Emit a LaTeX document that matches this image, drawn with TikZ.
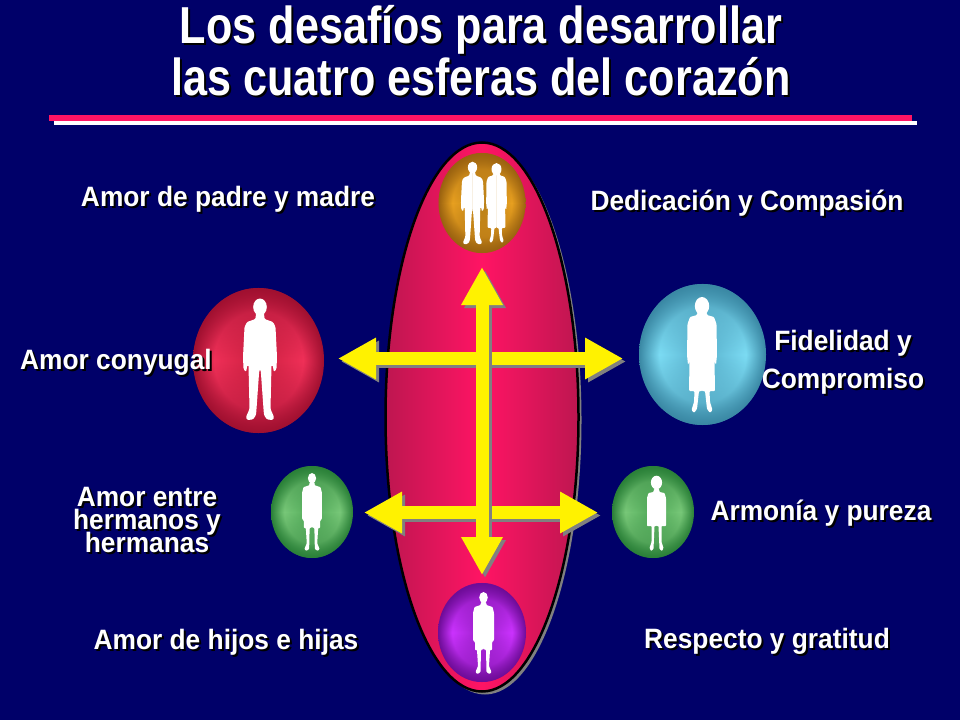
\documentclass[tikz,border=0pt]{standalone}
\usepackage{fontspec}
\usepackage{tikz}
\usetikzlibrary{shapes.geometric, arrows.meta, fadings}

\newfontfamily\titlefont[FakeStretch=.83]{Liberation Sans}
\newfontfamily\labelfont[FakeStretch=.94]{Liberation Sans}

\definecolor{navy}{HTML}{000069}
\definecolor{rosepink}{HTML}{FF1464}
\definecolor{rosedark}{HTML}{BE1650}
\definecolor{ballrim}{HTML}{808080}
\definecolor{ballglow}{HTML}{808080}
\definecolor{ballmid}{HTML}{808080}

\pgfdeclareradialshading[ballrim,ballglow,ballmid]{ballbody}{\pgfpoint{0bp}{0bp}}{color(0bp)=(ballmid);color(17bp)=(ballglow);color(25bp)=(ballrim);color(50bp)=(ballrim)}
\tikzfading[name=ballcap, top color=transparent!25, bottom color=transparent!25, middle color=transparent!100]

\tikzset{
	bigarrow/.style={line width=13pt, {Triangle[length=38pt,width=39pt]}-{Triangle[length=38pt,width=39pt]}},
	arrowshadow/.style={bigarrow, draw=gray},
	ballcolors/.code args={#1/#2/#3}{\definecolor{ballrim}{HTML}{#1}\definecolor{ballglow}{HTML}{#2}\definecolor{ballmid}{HTML}{#3}},
	man/.pic={
		\fill[white] (0,8) ellipse [x radius=6.8, y radius=8.5];
		\foreach \s in {1,-1}
			\fill[white, rounded corners=1.2pt, xscale=\s] (-.3,14)--(4,14)--(4.5,20)--(13,23)--(15.5,28)--(17,58)--(16.5,70)--(14,73)--(12.5,66)--(11.5,66)--(10.5,110)--(14,118)--(13,121)--(7,120.5)--(4,116)--(3.5,110)--(.8,72)--(-.3,70)--cycle;
	},
	woman/.pic={
		\fill[white] (0,9) ellipse [x radius=7.2, y radius=9];
		\foreach \s in {1,-1}
			\fill[white, rounded corners=1pt, xscale=\s] (-.3,12)--(4,12)--(5,18)--(12,20)--(14.5,27)--(15,58)--(14,68)--(12.5,64)--(13,94)--(7.5,94)--(8,105)--(10.5,113)--(8,116)--(5,112)--(3,94)--(-.3,94)--cycle;
	},
	boy/.pic={
		\fill[white] (0,5.5) ellipse [x radius=4.3, y radius=5.5];
		\foreach \s in {1,-1}
			\fill[white, rounded corners=.7pt, xscale=\s] (-.3,9)--(2.5,10)--(3,13)--(9,15)--(10.5,21)--(10.5,48)--(9,50)--(8.5,50)--(8.5,58)--(6.5,58)--(5.5,74)--(8,80)--(6,82)--(3,80)--(2.5,58)--(-.3,57)--cycle;
	},
	girl/.pic={
		\fill[white] (0,6.5) ellipse [x radius=5.6, y radius=6.8];
		\foreach \s in {1,-1}
			\fill[white, rounded corners=.7pt, xscale=\s] (-.3,12)--(2.5,13)--(3,16)--(8,17)--(9.5,22)--(9.5,50)--(5,50)--(5,66)--(7,72)--(5.5,75)--(3,73)--(2,50)--(-.3,50)--cycle;
	},
}

% ball: name, centre, width, height, colours
\newcommand{\ball}[5]{
	\node (#1) at (#2) [ellipse, inner sep=0pt, minimum width=#3, minimum height=#4, ballcolors=#5, shading=ballbody] {};
	\begin{scope}[ballcolors=#5]
		\fill[ballrim, path fading=ballcap] (#2) ellipse [x radius=#3/2, y radius=#4/2];
	\end{scope}
}
% text with its black shadow
\newcommand{\shadowlabel}[4]{
	\node (#1shadow) at (#2) [xshift=2pt, yshift=-2pt, text=black, align=center, #3] {#4};
	\node (#1) at (#2) [text=white, align=center, #3] {#4};
}

\begin{document}
\begin{tikzpicture}[x=1pt, y=-1pt,
	titlestyle/.style={font=\titlefont\bfseries\fontsize{52}{52}\selectfont},
	labelstyle/.style={font=\labelfont\bfseries\fontsize{28}{28}\selectfont},
	tightstyle/.style={font=\labelfont\bfseries\fontsize{28}{23.5}\selectfont},
	widestyle/.style={font=\labelfont\bfseries\fontsize{28}{38}\selectfont}]
	\useasboundingbox (0,0) rectangle (960,720);
	\fill[navy] (0,0) rectangle (960,720);

	% title and rule
	\shadowlabel{title}{481,51}{titlestyle}{Los desafíos para desarrollar\\las cuatro esferas del corazón}
	\coordinate (ruleleft) at (49,118);
	\coordinate (ruleright) at (912,118);
	\draw[white, line width=4pt] ([xshift=5pt, yshift=-5pt]ruleleft) -- ([xshift=5pt, yshift=-5pt]ruleright);
	\draw[rosepink, line width=6pt] (ruleleft) -- (ruleright);

	% central oval
	\node (ovalshadow) at (485,420) [ellipse, inner sep=0pt, minimum width=193, minimum height=549, fill=gray] {};
	\node (oval) at (482,417) [ellipse, inner sep=0pt, minimum width=193, minimum height=549, draw=black, line width=2.5pt, left color=rosedark, right color=rosedark, middle color=rosepink] {};

	% spheres
	\ball{parents}{482,203}{87}{100}{9A6210/E8A020/B88018}
	\ball{spouse}{258.5,360.5}{131}{145}{A01030/F03058/CC2040}
	\ball{devotion}{702.5,354.5}{127}{141}{3A88A4/7CDCF4/58B0CC}
	\ball{sibling}{312,512}{82}{92}{2A8038/78C878/4FA858}
	\ball{harmony}{653,512}{82}{92}{2A8038/78C878/4FA858}
	\ball{children}{482,632.5}{88}{99}{6E0C98/CC33FF/9A20C8}

	% figures
	\pic at (472.5,162) [scale=.68] {man};
	\pic at (496.5,163) [scale=.69] {woman};
	\pic at (260,299) {man};
	\pic at (702,297) {woman};
	\pic at (312,473) [scale=.95] {boy};
	\pic at (656.5,476) {girl};
	\pic at (483.5,592) {boy};

	% arrows
	\coordinate (topleft) at (338,358.5);
	\coordinate (topright) at (623,358.5);
	\coordinate (lowleft) at (364,512.5);
	\coordinate (lowright) at (598,512.5);
	\coordinate (upper) at (482,267);
	\coordinate (lower) at (482,575);
	\foreach \a/\b in {topleft/topright, lowleft/lowright} {
		\draw[arrowshadow] ([xshift=3pt, yshift=-3pt]\a) -- ([xshift=3pt, yshift=-3pt]\b);
		\draw[bigarrow, draw=yellow, fill=yellow] (\a) -- (\b);
	}
	\draw[arrowshadow] ([xshift=3pt, yshift=-3pt]upper) -- ([xshift=3pt, yshift=-3pt]lower);
	\draw[bigarrow, draw=yellow, fill=yellow] (upper) -- (lower);

	% labels
	\shadowlabel{padres}{228,199}{labelstyle}{Amor de padre y madre}
	\shadowlabel{dedicacion}{747,203}{labelstyle}{Dedicación y Compasión}
	\shadowlabel{conyugal}{116,362}{labelstyle}{Amor conyugal}
	\shadowlabel{fidelidad}{843,362}{widestyle}{Fidelidad y\\Compromiso}
	\shadowlabel{hermanos}{147,520}{tightstyle}{Amor entre\\hermanos y\\[-4pt]hermanas}
	\shadowlabel{armonia}{821,513}{labelstyle}{Armonía y pureza}
	\shadowlabel{hijos}{226,642}{labelstyle}{Amor de hijos e hijas}
	\shadowlabel{respecto}{767,641}{labelstyle}{Respecto y gratitud}
\end{tikzpicture}
\end{document}
